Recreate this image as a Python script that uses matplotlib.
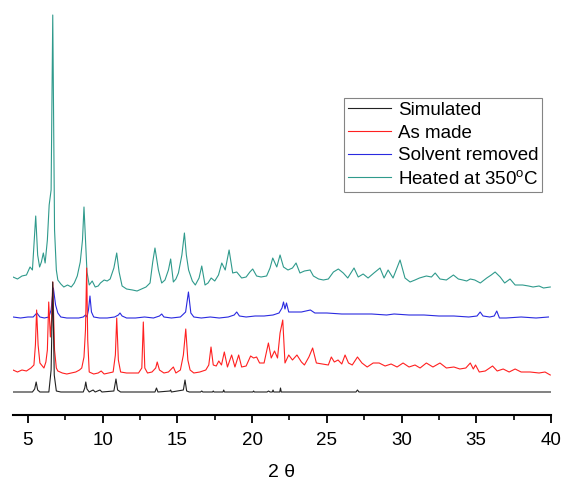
import matplotlib
matplotlib.use('Agg')
import matplotlib.pyplot as plt

plt.rcParams['font.family'] = ['Liberation Sans', 'DejaVu Sans']
plt.rcParams['mathtext.default'] = 'regular'

# 2theta and intensity (arbitrary units, stacked)
sim_x = [4.0, 5.3, 5.45, 5.55, 5.65, 5.8, 6.4, 6.55, 6.66, 6.76, 6.9, 7.2, 8.7, 8.8,
         8.87, 8.95, 9.1, 9.36, 9.5, 9.82, 9.95, 10.75, 10.89, 11.0, 11.2, 13.5,
         13.6, 13.7, 14.5, 14.55, 14.6, 15.4, 15.51, 15.62, 15.8, 16.55, 16.63,
         16.7, 17.35, 17.4, 17.45, 18.05, 18.1, 18.15, 20.05, 20.1, 20.15, 21.0,
         21.1, 21.2, 21.35, 21.4, 21.45, 21.85, 21.9, 21.95, 26.95, 27.05, 27.15, 40.0]
sim_y = [23, 23, 26, 33, 25, 23, 23, 45, 133, 40, 24, 23, 23, 27,
         33, 26, 23, 25, 23, 25, 23, 24, 36, 25, 23, 23,
         27, 23, 24, 25, 23, 25, 35, 24, 23, 23, 24,
         23, 23, 24, 23, 23, 25, 23, 23, 24, 23, 23,
         24, 23, 23, 25, 23, 23, 27, 23, 23, 25, 23, 23]

made_x = [4.0, 4.3, 4.6, 4.9, 5.2, 5.4, 5.5, 5.58, 5.68, 5.8, 6.07, 6.2, 6.3, 6.39,
          6.5, 6.58, 6.66, 6.78, 6.9, 7.0, 7.3, 7.6, 7.9, 8.2, 8.45, 8.6, 8.75,
          8.85, 8.93, 9.0, 9.1, 9.4, 9.7, 9.9, 10.1, 10.4, 10.7, 10.85, 10.94,
          11.05, 11.2, 11.6, 12.0, 12.4, 12.62, 12.72, 12.82, 13.0, 13.3, 13.55,
          13.65, 13.8, 14.1, 14.4, 14.73, 14.9, 15.2, 15.4, 15.56, 15.7, 15.85,
          16.1, 16.5, 16.9, 17.1, 17.25, 17.4, 17.6, 17.77, 17.95, 18.14, 18.35,
          18.63, 18.85, 19.1, 19.3, 19.6, 19.9, 20.1, 20.3, 20.5, 20.8, 21.09,
          21.28, 21.5, 21.7, 21.87, 22.05, 22.2, 22.45, 22.7, 23.0, 23.3, 23.5,
          23.8, 24.05, 24.3, 24.7, 25.1, 25.3, 25.5, 25.75, 26.0, 26.22, 26.45,
          26.7, 27.05, 27.35, 27.7, 28.1, 28.5, 28.9, 29.3, 29.7, 30.1, 30.5,
          30.9, 31.24, 31.66, 32.1, 32.57, 33.0, 33.5, 33.9, 34.3, 34.6, 34.8,
          34.95, 35.2, 35.6, 36.09, 36.4, 36.8, 37.2, 37.6, 38.0, 38.6, 39.2,
          39.6, 39.95]
made_y = [45, 43, 45, 44, 47, 50, 70, 105, 70, 52, 47, 53, 65, 113,
          78, 95, 133, 65, 47, 44, 42, 41, 42, 43, 45, 47, 58,
          85, 147, 75, 43, 41, 42, 44, 41, 42, 43, 60, 97,
          55, 43, 42, 42, 42, 47, 93, 47, 42, 43, 47,
          53, 45, 42, 43, 48, 42, 45, 60, 86, 55, 45,
          42, 43, 45, 50, 68, 50, 49, 54, 50, 63, 48,
          60, 48, 60, 48, 49, 59, 57, 58, 52, 52, 72,
          57, 64, 57, 82, 95, 52, 60, 55, 60, 53, 50,
          58, 67, 52, 51, 50, 58, 53, 55, 51, 60, 52,
          50, 58, 52, 48, 52, 52, 49, 51, 48, 52, 48,
          50, 47, 52, 48, 52, 47, 48, 46, 47, 52, 46,
          50, 43, 44, 49, 44, 46, 43, 46, 43, 43, 42,
          43, 40]

solv_x = [4.0, 4.5, 5.0, 5.35, 5.6, 5.8, 6.1, 6.4, 6.55, 6.7, 6.85, 7.0, 7.2, 7.6,
          8.0, 8.4, 8.7, 8.85, 8.95, 9.05, 9.15, 9.25, 9.4, 9.8, 10.3, 10.8,
          11.05, 11.16, 11.3, 11.6, 12.2, 12.8, 13.4, 13.8, 13.95, 14.1, 14.6,
          15.2, 15.55, 15.74, 15.9, 16.1, 16.6, 17.2, 17.8, 18.4, 18.8, 18.97,
          19.15, 19.6, 20.2, 20.8, 21.4, 21.8, 22.0, 22.1, 22.2, 22.3, 22.45,
          22.8, 23.3, 23.9, 24.2, 25.0, 26.0, 27.0, 28.0, 29.0, 29.5, 30.5, 31.5,
          32.5, 33.5, 34.5, 35.05, 35.26, 35.45, 35.9, 36.2, 36.37, 36.55, 37.0,
          38.0, 39.0, 39.83]
solv_y = [98, 97, 98, 98, 102, 98, 97, 98, 105, 127, 110, 102, 98, 97,
          97, 97, 98, 100, 98, 105, 119, 103, 98, 97, 97, 98,
          100, 102, 99, 97, 97, 98, 97, 99, 101, 98, 97,
          98, 103, 123, 102, 98, 97, 98, 97, 98, 100, 103,
          99, 98, 99, 99, 100, 102, 107, 113, 106, 112, 103,
          103, 103, 105, 102, 102, 101, 101, 101, 100, 101, 100, 100,
          99, 99, 98, 99, 103, 99, 98, 99, 104, 97, 97,
          98, 97, 98]

heat_x = [4.0, 4.3, 4.6, 4.9, 5.14, 5.3, 5.52, 5.65, 5.78, 5.9, 6.03, 6.15, 6.3,
          6.42, 6.55, 6.66, 6.78, 6.9, 7.0, 7.2, 7.4, 7.65, 7.9, 8.1, 8.3, 8.5,
          8.65, 8.75, 8.85, 8.95, 9.1, 9.3, 9.5, 9.7, 9.85, 10.1, 10.3, 10.5,
          10.75, 10.94, 11.1, 11.3, 11.6, 12.0, 12.3, 12.6, 12.9, 13.17, 13.35,
          13.5, 13.73, 13.95, 14.17, 14.4, 14.55, 14.73, 14.9, 15.07, 15.3, 15.47,
          15.6, 15.75, 16.0, 16.2, 16.45, 16.63, 16.85, 17.05, 17.26, 17.5, 17.75,
          17.97, 18.2, 18.46, 18.7, 18.97, 19.3, 19.6, 19.85, 20.04, 20.3, 20.6,
          20.97, 21.2, 21.38, 21.65, 21.87, 22.1, 22.4, 22.7, 22.94, 23.2, 23.5,
          23.88, 24.1, 24.45, 24.77, 25.1, 25.44, 25.77, 26.1, 26.4, 26.82, 27.1,
          27.43, 27.76, 28.15, 28.56, 28.83, 29.1, 29.43, 29.9, 30.23, 30.57, 30.9,
          31.2, 31.66, 32.0, 32.25, 32.57, 33.0, 33.47, 33.8, 34.1, 34.36, 34.6,
          34.9, 35.27, 35.7, 36.0, 36.26, 36.6, 36.9, 37.26, 37.6, 38.1, 38.5,
          38.8, 39.2, 39.5, 39.95]
heat_y = [138, 136, 139, 140, 148, 145, 199, 160, 148, 153, 162, 152, 175,
          210, 225, 400, 185, 145, 135, 131, 128, 130, 128, 132, 139, 153,
          175, 208, 175, 143, 130, 134, 128, 129, 132, 135, 134, 136,
          147, 162, 143, 129, 126, 125, 124, 126, 128, 132, 153,
          167, 145, 132, 135, 145, 156, 133, 136, 142, 160, 182,
          160, 145, 134, 130, 137, 149, 130, 132, 137, 134, 140,
          152, 145, 165, 142, 143, 137, 138, 143, 146, 139, 138,
          139, 147, 157, 148, 160, 148, 145, 147, 152, 142, 144,
          145, 139, 136, 135, 136, 143, 146, 142, 137, 147, 138,
          141, 137, 142, 147, 137, 145, 137, 155, 137, 133, 135,
          137, 139, 138, 142, 136, 135, 140, 136, 135, 134, 136,
          135, 132, 137, 140, 143, 138, 132, 136, 130, 130, 129,
          128, 129, 127, 128]

labels = ['Simulated', 'As made', 'Solvent removed', 'Heated at 350$^{o}$C']
colors = ['#222222', '#ff2020', '#2a2ae0', '#2f9a8c']

fig = plt.figure(figsize=(5.63, 4.86), dpi=100)
ax = fig.add_axes([13/563, 71/486, 538/563, 403/486])

ax.plot(sim_x, sim_y, color=colors[0], lw=0.8, label=labels[0], zorder=5)
ax.plot(made_x, made_y, color=colors[1], lw=0.8, label=labels[1], zorder=4)
ax.plot(solv_x, solv_y, color=colors[2], lw=0.8, label=labels[2], zorder=3)
ax.plot(heat_x, heat_y, color=colors[3], lw=0.8, label=labels[3], zorder=2)

ax.set_xlim(4, 40)
ax.set_ylim(0, 403)
for s in ['left', 'right', 'top']:
    ax.spines[s].set_visible(False)
ax.spines['bottom'].set_linewidth(1.5)
ax.set_yticks([])
ax.set_xticks([5, 10, 15, 20, 25, 30, 35, 40])
ax.set_xticks([7.5, 12.5, 17.5, 22.5, 27.5, 32.5, 37.5], minor=True)
ax.tick_params(axis='x', which='major', length=6, width=1.3, labelsize=13.5, pad=6)
ax.tick_params(axis='x', which='minor', length=3.5, width=1.2)
ax.set_xlabel('2 \u03b8', fontsize=14, labelpad=11)

leg = ax.legend(loc='upper left', bbox_to_anchor=(344/563, 1 - 98/486),
                bbox_transform=fig.transFigure, fontsize=13.5, frameon=True,
                fancybox=False, handlelength=2.3, handletextpad=0.37,
                labelspacing=0.3, borderpad=0.2, borderaxespad=0)
leg.get_frame().set_edgecolor('#666666')
leg.get_frame().set_linewidth(0.8)

fig.savefig('out.png', dpi=100)
